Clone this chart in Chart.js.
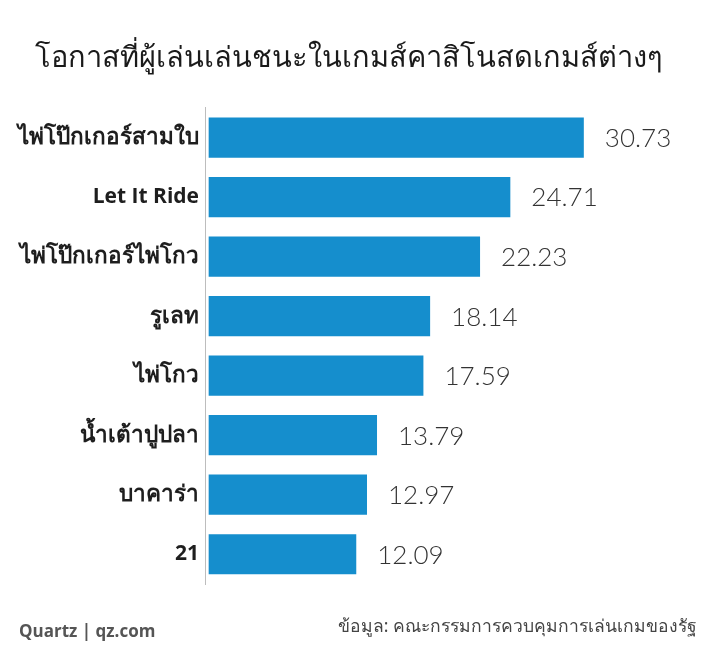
<!DOCTYPE html>
<html>
<head>
<meta charset="utf-8">
<script src="https://cdn.jsdelivr.net/npm/chart.js@4.4.1/dist/chart.umd.min.js"></script>
<style>
  html, body { margin: 0; padding: 0; background: #fff; }
  #wrap { position: relative; width: 718px; height: 660px; }
</style>
</head>
<body>
<div id="wrap"><canvas id="chart" width="718" height="660"></canvas></div>
<script>
// ─── 数据 ─────────────────────────────────────────────
const games = [
  'ไพ่โป๊กเกอร์สามใบ', 'Let It Ride', 'ไพ่โป๊กเกอร์ไพ่โกว', 'รูเลท',
  'ไพ่โกว', 'น้ำเต้าปูปลา', 'บาคาร่า', '21',
];
const winOdds = [30.73, 24.71, 22.23, 18.14, 17.59, 13.79, 12.97, 12.09];
const titleText  = 'โอกาสที่ผู้เล่นเล่นชนะในเกมส์คาสิโนสดเกมส์ต่างๆ';
const brandText  = 'Quartz | qz.com';
const sourceText = 'ข้อมูล: คณะกรรมการควบคุมการเล่นเกมของรัฐ';

const BAR_BLUE = '#158ecd';
const isLatin  = s => /^[A-Za-z0-9 ]+$/.test(s);

// 数值标签：画在每根柱子右侧
const valueLabels = {
  id: 'valueLabels',
  afterDatasetsDraw(chart) {
    const { ctx } = chart;
    const meta = chart.getDatasetMeta(0);
    ctx.save();
    ctx.font = '300 26px Lato, "Open Sans", sans-serif';
    ctx.fillStyle = '#333';
    ctx.textAlign = 'left';
    ctx.textBaseline = 'middle';
    meta.data.forEach((bar, i) => {
      ctx.fillText(winOdds[i].toFixed(2), bar.x + 21, bar.y + 1);
    });
    ctx.restore();
  },
};

// 页脚：左侧品牌，右侧数据来源
const footer = {
  id: 'footer',
  afterDraw(chart) {
    const { ctx, width } = chart;
    ctx.save();
    ctx.textBaseline = 'middle';
    ctx.fillStyle = '#555';
    ctx.font = 'bold 17px "Open Sans", sans-serif';
    ctx.textAlign = 'left';
    ctx.fillText(brandText, 19, 632);
    ctx.fillStyle = '#444';
    ctx.font = '17.5px "Noto Sans", sans-serif';
    ctx.textAlign = 'right';
    ctx.fillText(sourceText, width - 21, 627);
    ctx.restore();
  },
};

new Chart(document.getElementById('chart'), {
  type: 'bar',
  data: {
    labels: games,
    datasets: [{
      data: winOdds,
      backgroundColor: BAR_BLUE,
      borderWidth: 0,
      barPercentage: 0.9,
      categoryPercentage: 0.75,
    }],
  },
  options: {
    indexAxis: 'y',
    responsive: false,
    animation: false,
    layout: { padding: { left: 0, right: 21, top: 0, bottom: 76 } },
    plugins: {
      legend: { display: false },
      tooltip: { enabled: false },
      title: {
        display: true,
        text: titleText,
        color: '#1a1a1a',
        font: { size: 29, weight: 'normal', family: '"Noto Sans", sans-serif', lineHeight: 1.2 },
        padding: { top: 41, bottom: 32 },
      },
    },
    scales: {
      x: {
        display: false,
        min: -0.3,
        max: 40,
      },
      y: {
        afterFit: s => { s.width = 205; },
        grid: { display: false, drawTicks: false },
        border: { display: true, color: '#bdbdbd', width: 1 },
        ticks: {
          padding: 6,
          color: '#1e1e1e',
          font: ctx => {
            const latin = isLatin(games[ctx.index] || '');
            return {
              size: latin ? 21 : 22.5,
              weight: latin ? 'bold' : '600',
              family: '"Open Sans", "Noto Sans", sans-serif',
            };
          },
        },
      },
    },
  },
  plugins: [valueLabels, footer],
});
</script>
</body>
</html>
